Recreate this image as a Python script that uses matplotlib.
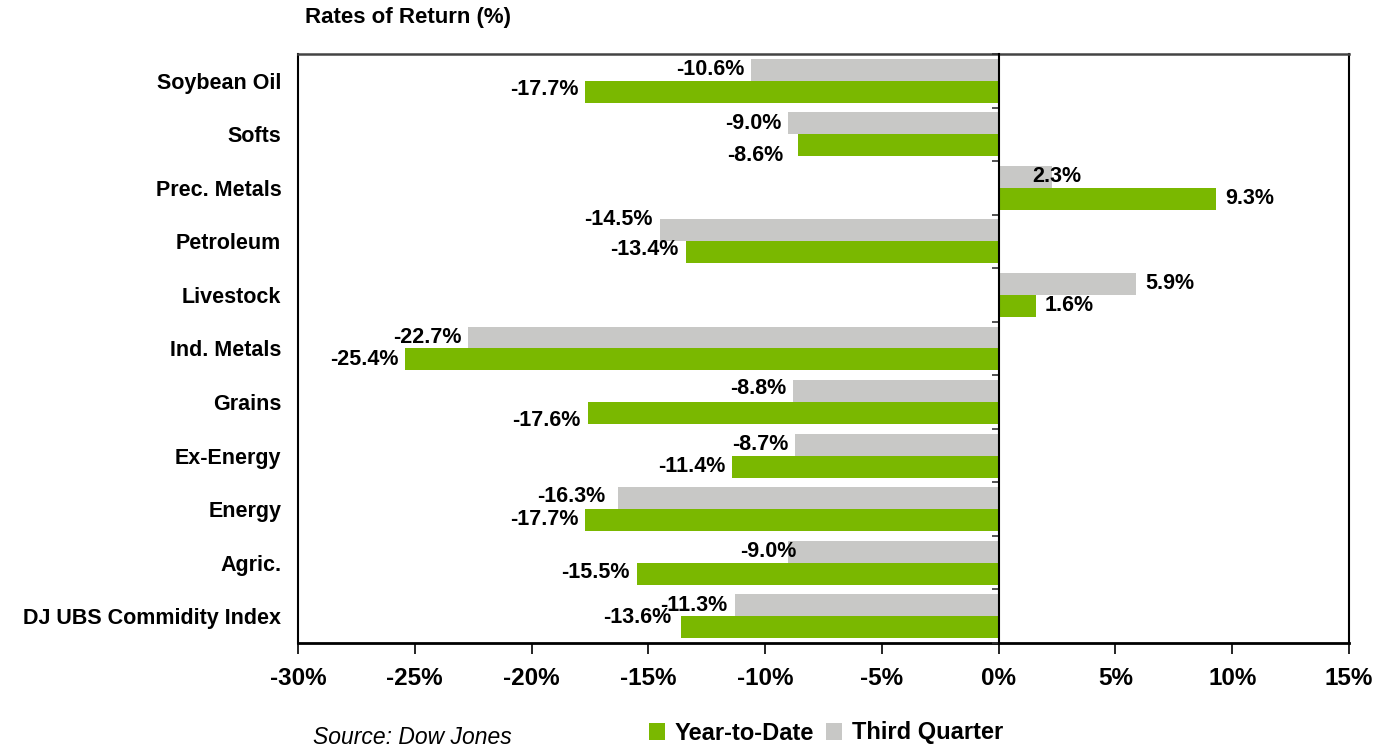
import matplotlib
matplotlib.use("Agg")
import matplotlib.pyplot as plt
from matplotlib.patches import Patch
from matplotlib.ticker import FuncFormatter

categories = ["Soybean Oil", "Softs", "Prec. Metals", "Petroleum", "Livestock",
              "Ind. Metals", "Grains", "Ex-Energy", "Energy", "Agric.",
              "DJ UBS Commidity Index"]
ytd = [-17.7, -8.6, 9.3, -13.4, 1.6, -25.4, -17.6, -11.4, -17.7, -15.5, -13.6]
q3 = [-10.6, -9.0, 2.3, -14.5, 5.9, -22.7, -8.8, -8.7, -16.3, -9.0, -11.3]
xticks = [-30, -25, -20, -15, -10, -5, 0, 5, 10, 15]

# label nudges in pixels (dx, dy) to mimic the reference's placement
q3_nudge = [(0, 0), (0, 0), (-29, 0), (0, 11), (0, 0), (0, 0), (0, 3), (0, 0), (-6, 2), (15, 0), (0, 0)]
ytd_nudge = [(0, 2), (-7, -10), (0, 0), (0, 3), (0, 0), (0, 0), (0, -7), (0, 0), (0, 1), (0, 1), (-3, 10)]

GREEN = "#7AB800"
GRAY = "#C8C8C6"
FONT = "Liberation Sans"

fig = plt.figure(figsize=(13.8, 7.49), dpi=100)
ax = fig.add_axes([298/1380, 1-643/749, (1349-298)/1380, (643-54)/749])

n = len(categories)
ypos = [n - 1 - i for i in range(n)]
h = 0.41
ax.barh([y + h/2 for y in ypos], q3, height=h, color=GRAY, zorder=2)
ax.barh([y - h/2 for y in ypos], ytd, height=h, color=GREEN, zorder=2)

def add_labels(vals, yoff, nudges):
    for y, v, (dx, dy) in zip(ypos, vals, nudges):
        if v < 0:
            ha, base = "right", -7
        else:
            ha, base = "left", 9
        ax.annotate(f"{v:.1f}%", xy=(v, y + yoff), xytext=(base + dx, dy),
                    textcoords="offset pixels", ha=ha, va="center",
                    fontsize=15.5, fontweight="bold", family=FONT, color="black",
                    zorder=5)

add_labels(q3, h/2, q3_nudge)
add_labels(ytd, -h/2, ytd_nudge)

ax.set_xlim(-30, 15)
ax.set_ylim(-0.5, n - 0.5)
ax.set_xticks(xticks)
ax.xaxis.set_major_formatter(FuncFormatter(lambda v, p: f"{v:.0f}%"))
for lab in ax.get_xticklabels():
    lab.set_fontsize(17.5)
    lab.set_fontweight("bold")
    lab.set_family(FONT)
ax.tick_params(axis="x", direction="out", length=8, width=1.2, pad=9, colors="black")

ax.set_yticks(ypos)
ax.set_yticklabels(categories, fontsize=15.5, fontweight="bold", family=FONT)
ax.tick_params(axis="y", length=0, pad=12)

for s in ["left", "right"]:
    ax.spines[s].set_color("black")
    ax.spines[s].set_linewidth(1.5)
ax.spines["top"].set_color("#444444")
ax.spines["top"].set_linewidth(1.8)
ax.spines["bottom"].set_color("black")
ax.spines["bottom"].set_linewidth(2)

# zero line with category-boundary ticks
sec = ax.secondary_yaxis(30/45)
sec.set_yticks([i + 0.5 for i in range(-1, n)])
sec.set_yticklabels([])
sec.tick_params(axis="y", direction="in", length=5, width=1.2, colors="#333333")
for s in sec.spines.values():
    s.set_linewidth(1.5)
    s.set_color("black")
sec.set_zorder(4)

fig.text(305/1380, 1-17/749, "Rates of Return (%)", fontsize=16, fontweight="bold",
         family=FONT, ha="left", va="center")
fig.text(313/1380, 1-738/749, "Source: Dow Jones", fontsize=16.5, style="italic",
         family=FONT, ha="left", va="center")

handles = [Patch(facecolor=GREEN, edgecolor="none", label="Year-to-Date"),
           Patch(facecolor=GRAY, edgecolor="none", label="Third Quarter")]
fig.legend(handles=handles, loc="center", bbox_to_anchor=(826/1380, 1-733/749), ncol=2,
           frameon=False, handlelength=0.7, handleheight=0.7, handletextpad=0.4,
           columnspacing=0.5, prop={"family": FONT, "weight": "bold", "size": 17})

fig.savefig("out.png", dpi=100)
